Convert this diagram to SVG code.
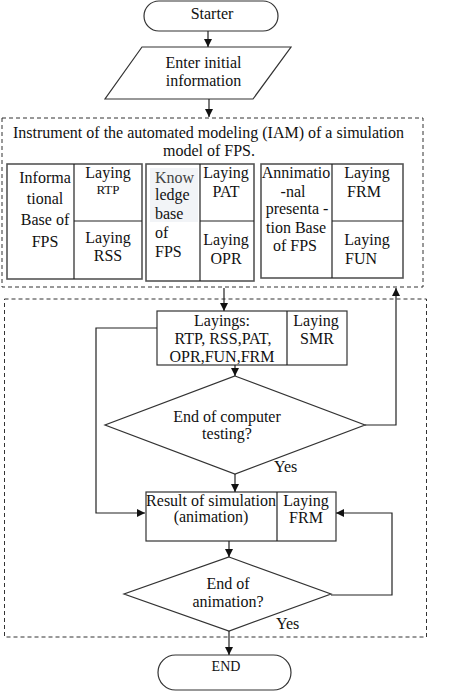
<svg xmlns="http://www.w3.org/2000/svg" width="464" height="691" viewBox="0 0 464 691">
<style>
text{font-family:"Liberation Serif","Times New Roman",serif;font-size:16px;fill:#111;text-anchor:middle}
.s{text-anchor:start}
.box{fill:#fff;stroke:#333;stroke-width:1.2}
.grp{fill:#fff;stroke:#555;stroke-width:1.6}
.dash{fill:none;stroke:#333;stroke-width:1;stroke-dasharray:4,3}
.ln{fill:none;stroke:#222;stroke-width:1.2}
</style>
<defs>
<marker id="ah" markerUnits="userSpaceOnUse" markerWidth="8" markerHeight="8" refX="8" refY="4" orient="auto">
<path d="M0,0 L8,4 L0,8 z" fill="#111"/>
</marker>
</defs>
<rect width="464" height="691" fill="#fff"/>

<g id="frame-iam">
<rect class="dash" x="2" y="118" width="421" height="169"/>
<text x="208.5" y="138">Instrument of the automated modeling (IAM) of a simulation</text>
<text x="209" y="156">model of FPS.</text>
</g>
<g id="frame-sim">
<rect class="dash" x="4.5" y="299" width="422" height="338"/>
</g>

<g id="start">
<rect class="box" x="144" y="1" width="134" height="30" rx="15"/>
<text x="212" y="19">Starter</text>
</g>

<g id="input">
<polygon class="box" points="142,47 291,47 253,99 105,99"/>
<text x="203.5" y="68">Enter initial</text>
<text x="203.5" y="86">information</text>
</g>

<g id="info-base">
<rect class="grp" x="7" y="164" width="135" height="115"/>
<line class="ln" x1="74" y1="164" x2="74" y2="279"/>
<line class="ln" x1="74" y1="221" x2="142" y2="221"/>
<text x="45" y="183">Informa</text>
<text x="45" y="204">tional</text>
<text x="45" y="225">Base of</text>
<text x="45" y="247">FPS</text>
<text x="108" y="178">Laying</text>
<text x="108" y="194" style="font-size:13px">RTP</text>
<text x="108" y="243">Laying</text>
<text x="108" y="261">RSS</text>
</g>

<g id="knowledge-base">
<rect class="grp" x="146" y="164" width="108" height="117"/>
<rect x="150" y="168" width="48" height="54" fill="#f2f4f7"/>
<line class="ln" x1="200" y1="164" x2="200" y2="281"/>
<line class="ln" x1="200" y1="221" x2="254" y2="221"/>
<text class="s" x="155" y="183" style="fill:#444">Know</text>
<text class="s" x="155" y="200">ledge</text>
<text class="s" x="155" y="219">base</text>
<text class="s" x="155" y="238">of</text>
<text class="s" x="155" y="257">FPS</text>
<text x="226" y="178">Laying</text>
<text x="226" y="197">PAT</text>
<text x="226" y="245">Laying</text>
<text x="226" y="264">OPR</text>
</g>

<g id="animation-base">
<rect class="grp" x="261" y="164" width="142" height="114"/>
<line class="ln" x1="332" y1="164" x2="332" y2="278"/>
<line class="ln" x1="332" y1="221" x2="403" y2="221"/>
<text x="296" y="178">Annimatio</text>
<text x="293" y="197">-nal</text>
<text x="297" y="214">presenta -</text>
<text x="296" y="233">tion Base</text>
<text x="295" y="251">of FPS</text>
<text x="367" y="178">Laying</text>
<text x="364" y="197">FRM</text>
<text x="367" y="245">Laying</text>
<text x="361" y="264">FUN</text>
</g>

<g id="layings">
<rect class="box" x="157" y="311" width="190" height="54"/>
<line class="ln" x1="287" y1="311" x2="287" y2="365"/>
<text x="222" y="326">Layings:</text>
<text x="223" y="344">RTP, RSS,PAT,</text>
<text x="222" y="362">OPR,FUN,FRM</text>
<text x="316" y="326">Laying</text>
<text x="317" y="344">SMR</text>
</g>

<g id="decision-testing">
<polygon class="box" points="235,376 365,425 235,474 105,425"/>
<text x="227" y="422">End of computer</text>
<text x="227" y="439">testing?</text>
</g>

<g id="result">
<rect class="box" x="146" y="492" width="190" height="49"/>
<line class="ln" x1="277" y1="492" x2="277" y2="541"/>
<text x="211" y="506">Result of simulation</text>
<text x="211" y="522">(animation)</text>
<text x="306" y="506">Laying</text>
<text x="306" y="523">FRM</text>
</g>

<g id="decision-animation">
<polygon class="box" points="229,557 331,594 229,631 124,594"/>
<text x="228" y="589">End of</text>
<text x="228" y="607">animation?</text>
</g>

<g id="end">
<rect class="box" x="158" y="655" width="133" height="35" rx="17.5"/>
<text x="226" y="671" style="font-size:14px">END</text>
</g>

<g id="connectors">
<line class="ln" x1="208" y1="31" x2="208" y2="47" marker-end="url(#ah)"/>
<line class="ln" x1="209" y1="99" x2="209" y2="117" marker-end="url(#ah)"/>
<line class="ln" x1="224" y1="288" x2="224" y2="311" marker-end="url(#ah)"/>
<line class="ln" x1="235" y1="365" x2="235" y2="376" marker-end="url(#ah)"/>
<polyline class="ln" points="365,425 396,425 396,288" marker-end="url(#ah)"/>
<polyline class="ln" points="157,328 96,328 96,513 145,513" marker-end="url(#ah)"/>
<line class="ln" x1="235" y1="474" x2="235" y2="492" marker-end="url(#ah)"/>
<line class="ln" x1="229" y1="541" x2="229" y2="557" marker-end="url(#ah)"/>
<polyline class="ln" points="331,595 392,595 392,513 336,513" marker-end="url(#ah)"/>
<line class="ln" x1="229" y1="631" x2="229" y2="655" marker-end="url(#ah)"/>
<text class="s" x="274" y="472">Yes</text>
<text class="s" x="276" y="629">Yes</text>
</g>
</svg>
